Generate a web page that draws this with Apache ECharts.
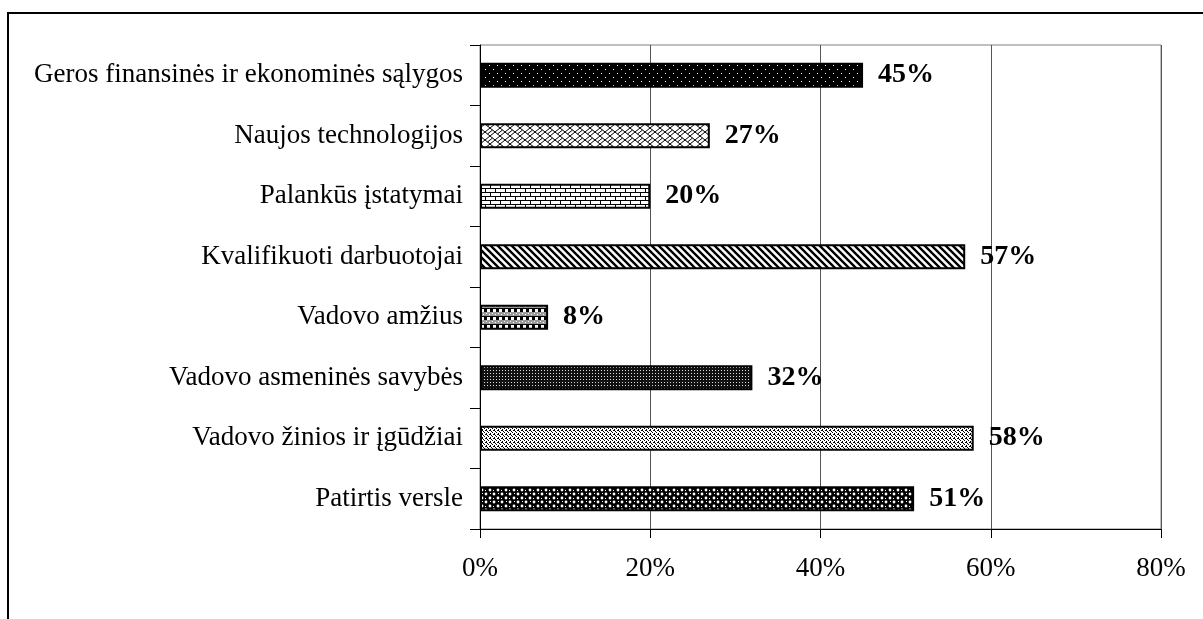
<!DOCTYPE html>
<html>
<head>
<meta charset="utf-8">
<script src="https://cdn.jsdelivr.net/npm/echarts@6/dist/echarts.min.js"></script>
<style>
  html, body { margin: 0; padding: 0; background: #fff; }
  #chart { width: 1203px; height: 619px; }
</style>
</head>
<body>
<div id="chart"></div>
<script>
// kategorijos is virsaus i apacia
var categories = [
    'Geros finansinės ir ekonominės sąlygos',
    'Naujos technologijos',
    'Palankūs įstatymai',
    'Kvalifikuoti darbuotojai',
    'Vadovo amžius',
    'Vadovo asmeninės savybės',
    'Vadovo žinios ir įgūdžiai',
    'Patirtis versle'
];
var values = [45, 27, 20, 57, 8, 32, 58, 51];
var tickLabels = ['0%', '20%', '40%', '60%', '80%'];

var FONT = "'Liberation Serif', 'Times New Roman', serif";

// uzpildo rastai (pattern) kaip excel'yje
function makeTile(w, h, draw) {
    var c = document.createElement('canvas');
    c.width = w;
    c.height = h;
    var ctx = c.getContext('2d');
    draw(ctx, w, h);
    return { image: c, repeat: 'repeat' };
}

var patterns = [
    // juodas su retais baltais taskais
    makeTile(8, 8, function (ctx) {
        ctx.fillStyle = '#000'; ctx.fillRect(0, 0, 8, 8);
        ctx.fillStyle = '#fff';
        ctx.fillRect(1, 1, 1, 1); ctx.fillRect(5, 5, 1, 1);
    }),
    // pintas tinklelis
    makeTile(10, 8, function (ctx) {
        ctx.fillStyle = '#fff'; ctx.fillRect(0, 0, 10, 8);
        ctx.strokeStyle = '#000'; ctx.lineWidth = 1;
        ctx.beginPath();
        ctx.moveTo(0, 0); ctx.lineTo(5, 4); ctx.lineTo(10, 0);
        ctx.moveTo(0, 8); ctx.lineTo(5, 4); ctx.lineTo(10, 8);
        ctx.moveTo(0, 4); ctx.lineTo(2.5, 2);
        ctx.moveTo(10, 4); ctx.lineTo(7.5, 6);
        ctx.stroke();
    }),
    // plytos
    makeTile(10, 8, function (ctx) {
        ctx.fillStyle = '#fff'; ctx.fillRect(0, 0, 10, 8);
        ctx.fillStyle = '#000';
        ctx.fillRect(0, 0, 10, 1); ctx.fillRect(0, 4, 10, 1);
        ctx.fillRect(0, 0, 1, 4); ctx.fillRect(5, 4, 1, 4);
    }),
    // istrizos juostos
    makeTile(7, 7, function (ctx) {
        ctx.fillStyle = '#fff'; ctx.fillRect(0, 0, 7, 7);
        ctx.strokeStyle = '#000'; ctx.lineWidth = 2.4;
        ctx.beginPath();
        ctx.moveTo(-1, -1); ctx.lineTo(8, 8);
        ctx.moveTo(-8, -1); ctx.lineTo(1, 8);
        ctx.moveTo(6, -1); ctx.lineTo(15, 8);
        ctx.stroke();
    }),
    // languotas
    makeTile(6, 8, function (ctx) {
        ctx.fillStyle = '#999'; ctx.fillRect(0, 0, 6, 4);
        ctx.fillStyle = '#000'; ctx.fillRect(0, 4, 6, 4);
        ctx.fillStyle = '#fff'; ctx.fillRect(1, 5, 3, 3);
        ctx.fillRect(0, 1, 1, 1); ctx.fillRect(3, 2, 1, 1);
    }),
    // tamsus smulkus
    makeTile(3, 3, function (ctx) {
        ctx.fillStyle = '#111'; ctx.fillRect(0, 0, 3, 3);
        ctx.fillStyle = '#ddd'; ctx.fillRect(1, 1, 1, 1);
    }),
    // sviesus taskuotas
    makeTile(4, 4, function (ctx) {
        ctx.fillStyle = '#fff'; ctx.fillRect(0, 0, 4, 4);
        ctx.fillStyle = '#000';
        ctx.fillRect(0, 0, 1, 1); ctx.fillRect(2, 1, 1, 1);
        ctx.fillRect(1, 2, 1, 1); ctx.fillRect(3, 3, 1, 1);
        ctx.fillRect(2, 2, 1, 1);
    }),
    // juodas su baltais apskritimais
    makeTile(8, 8, function (ctx) {
        ctx.fillStyle = '#000'; ctx.fillRect(0, 0, 8, 8);
        ctx.fillStyle = '#fff';
        ctx.beginPath(); ctx.arc(2, 2, 1.4, 0, Math.PI * 2); ctx.fill();
        ctx.beginPath(); ctx.arc(6, 6, 1.4, 0, Math.PI * 2); ctx.fill();
        ctx.fillRect(5, 2, 1, 1); ctx.fillRect(2, 5, 1, 1);
    })
];

var barData = [];
for (var i = 0; i < values.length; i++) {
    barData.push({
        value: values[i],
        itemStyle: { color: patterns[i] }
    });
}

var chart = echarts.init(document.getElementById('chart'));

var option = {
    animation: false,
    backgroundColor: '#fff',
    graphic: [{
        type: 'rect',
        shape: { x: 8, y: 13, width: 1300, height: 800 },
        style: { fill: 'none', stroke: '#000', lineWidth: 2 },
        silent: true
    }],
    grid: {
        left: 480,
        top: 45,
        width: 681,
        height: 484,
        show: true,
        borderColor: '#808080',
        borderWidth: 1,
        containLabel: false
    },
    xAxis: {
        type: 'value',
        min: 0,
        max: 80,
        interval: 20,
        axisLine: { show: true, lineStyle: { color: '#000', width: 1 } },
        axisTick: { show: true, length: 9, lineStyle: { color: '#000' } },
        splitLine: { show: true, lineStyle: { color: '#555', width: 1 } },
        axisLabel: {
            margin: 26,
            fontFamily: FONT,
            fontSize: 27,
            color: '#000',
            formatter: function (v) { return tickLabels[v / 20]; }
        }
    },
    yAxis: {
        type: 'category',
        inverse: true,
        data: categories,
        axisLine: { show: true, lineStyle: { color: '#000', width: 1 } },
        axisTick: { show: true, length: 10, lineStyle: { color: '#000' } },
        axisLabel: {
            margin: 17,
            fontFamily: FONT,
            fontSize: 27,
            lineHeight: 30,
            padding: [4, 0, 0, 0],
            color: '#000'
        }
    },
    series: [{
        type: 'bar',
        data: barData,
        barWidth: 25,
        itemStyle: { borderColor: '#000', borderWidth: 2 },
        label: {
            show: true,
            position: 'right',
            distance: 15,
            formatter: '{c}%',
            fontFamily: FONT,
            fontWeight: 'bold',
            fontSize: 28,
            color: '#000'
        }
    }]
};

chart.setOption(option);
</script>
</body>
</html>
